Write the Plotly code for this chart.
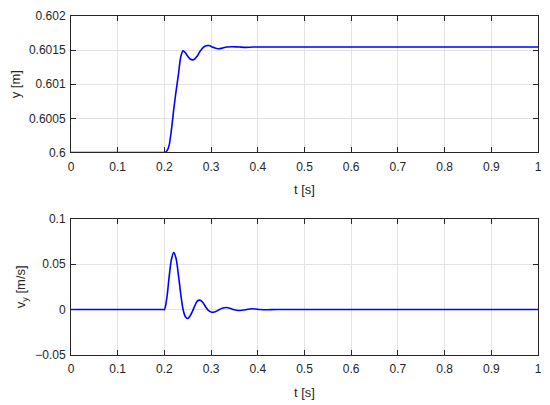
import plotly.graph_objs as go
from plotly.subplots import make_subplots

# position response
t_pos = [0, 0.1, 0.19, 0.196, 0.2, 0.203, 0.206, 0.21, 0.215, 0.22, 0.225,
         0.23, 0.235, 0.24, 0.245, 0.25, 0.255, 0.262, 0.27, 0.276, 0.285,
         0.295, 0.305, 0.315, 0.325, 0.333, 0.345, 0.36, 0.375, 0.39, 0.45,
         0.6, 0.8, 1.0]
y_pos = [0.6, 0.6, 0.6, 0.6, 0.6, 0.600005, 0.60003, 0.6001, 0.60033,
         0.60063, 0.6009, 0.60114, 0.6014, 0.60149, 0.60146, 0.60141,
         0.60137, 0.601358, 0.60141, 0.60148, 0.60155, 0.601567, 0.60154,
         0.60152, 0.60153, 0.601545, 0.60155, 0.601545, 0.60154, 0.601545,
         0.601545, 0.601545, 0.601545, 0.601545]

# velocity response
t_vel = [0, 0.1, 0.19, 0.196, 0.2, 0.205, 0.21, 0.215, 0.22, 0.225, 0.23,
         0.235, 0.24, 0.245, 0.25, 0.255, 0.26, 0.265, 0.27, 0.276, 0.282,
         0.288, 0.294, 0.3, 0.305, 0.31, 0.318, 0.325, 0.333, 0.34, 0.348,
         0.355, 0.362, 0.37, 0.378, 0.386, 0.395, 0.405, 0.42, 0.44, 0.6,
         0.8, 1.0]
v_vel = [0, 0, 0, 0, 0, 0.012, 0.035, 0.055, 0.0625, 0.056, 0.038, 0.017,
         0.0, -0.008, -0.0099, -0.007, -0.002, 0.004, 0.009, 0.0103, 0.008,
         0.003, -0.001, -0.0028, -0.003, -0.0022, 0.0, 0.0017, 0.0022,
         0.0015, 0.0, -0.0009, -0.0011, -0.0006, 0.0002, 0.0008, 0.0005,
         0.0, -0.0003, 0.0, 0.0, 0.0, 0.0]

x_ticks = [0, 0.1, 0.2, 0.3, 0.4, 0.5, 0.6, 0.7, 0.8, 0.9, 1]
x_text = ['0', '0.1', '0.2', '0.3', '0.4', '0.5', '0.6', '0.7', '0.8', '0.9', '1']
y_ticks = [0.6, 0.6005, 0.601, 0.6015, 0.602]
y_text = ['0.6', '0.6005', '0.601', '0.6015', '0.602']
v_ticks = [-0.05, 0, 0.05, 0.1]
v_text = ['\u22120.05', '0', '0.05', '0.1']

fig = make_subplots(rows=2, cols=1, vertical_spacing=0.195)

fig.add_trace(go.Scatter(x=t_pos, y=y_pos, mode='lines',
                         line={'color': 'rgb(0,0,255)', 'width': 1.6,
                               'shape': 'spline', 'smoothing': 0.8}),
              row=1, col=1)
fig.add_trace(go.Scatter(x=t_vel, y=v_vel, mode='lines',
                         line={'color': 'rgb(0,0,255)', 'width': 1.6,
                               'shape': 'spline', 'smoothing': 0.8}),
              row=2, col=1)

axis_style = dict(showline=True, linecolor='#262626', linewidth=1,
                  mirror='ticks', ticks='inside', ticklen=5, tickcolor='#262626',
                  showgrid=True, gridcolor='#e3e3e3', gridwidth=1,
                  zeroline=False, automargin=False,
                  tickfont={'size': 12, 'color': '#262626'})
title_font = {'size': 13, 'color': '#262626'}

fig.update_xaxes(axis_style, range=[0, 1], tickvals=x_ticks, ticktext=x_text,
                 ticklabelstandoff=3,
                 title={'text': 't [s]', 'font': title_font, 'standoff': 12})
fig.update_yaxes(axis_style, range=[0.6, 0.602], tickvals=y_ticks,
                 ticktext=y_text, row=1, col=1, ticklabelstandoff=2,
                 title={'text': 'y [m]', 'font': title_font, 'standoff': 6})
fig.update_yaxes(axis_style, range=[-0.05, 0.1], tickvals=v_ticks,
                 ticktext=v_text, row=2, col=1, ticklabelstandoff=2,
                 title={'text': 'v<sub>y</sub> [m/s]', 'font': title_font,
                        'standoff': 6})

# the page body adds an 8px margin, so the figure is sized to fit the window
fig.update_layout(width=542, height=397, showlegend=False,
                  margin={'l': 63, 'r': 12, 't': 8, 'b': 50},
                  paper_bgcolor='white', plot_bgcolor='white',
                  font={'family': 'Liberation Sans, Arial, sans-serif',
                        'color': '#262626'})

fig.write_html("out.html")
